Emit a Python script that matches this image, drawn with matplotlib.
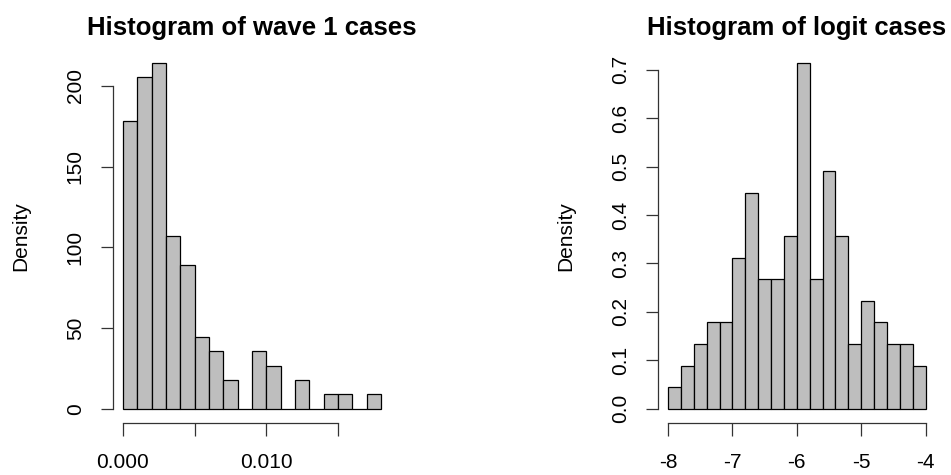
"""Two R-style density histograms: raw wave 1 cases and their logit."""

import matplotlib

matplotlib.use("Agg")
import matplotlib.pyplot as plt
import numpy as np

# wave 1 cases: bins of width 0.001 starting at 0
wave_bin_start = 0.0
wave_bin_width = 0.001
wave_density = [
    178.6, 205.4, 214.3, 107.1, 89.3, 44.6, 35.7, 17.9, 0.0,
    35.7, 26.8, 0.0, 17.9, 0.0, 8.9, 8.9, 0.0, 8.9,
]
wave_xticks = [0.000, 0.005, 0.010, 0.015]
wave_xticklabels = ["0.000", "", "0.010", ""]
wave_yticks = [0, 50, 100, 150, 200]

# logit cases: bins of width 0.2 starting at -8
logit_bin_start = -8.0
logit_bin_width = 0.2
logit_density = [
    0.045, 0.089, 0.134, 0.179, 0.179, 0.312, 0.446, 0.268, 0.268, 0.357,
    0.714, 0.268, 0.491, 0.357, 0.134, 0.223, 0.179, 0.134, 0.134, 0.089,
]
logit_xticks = [-8, -7, -6, -5, -4]
logit_yticks = [0.0, 0.1, 0.2, 0.3, 0.4, 0.5, 0.6, 0.7]

plt.rcParams["font.family"] = ["Liberation Sans", "DejaVu Sans"]
plt.rcParams["axes.unicode_minus"] = False

BAR_COLOR = "#bebebe"
TICK_SIZE = 15
TITLE_SIZE = 18.5


def r_hist(ax, start, width, density, title, xticks, xticklabels, yticks, yfmt):
    """Draw a base-R looking histogram on ax."""
    edges = start + width * np.arange(len(density))
    ax.bar(
        edges,
        density,
        width=width,
        align="edge",
        color=BAR_COLOR,
        edgecolor="black",
        linewidth=0.9,
    )
    # R pads the data range by 4% on each side
    x0, x1 = start, start + width * len(density)
    pad_x = 0.04 * (x1 - x0)
    ymax = max(density)
    ax.set_xlim(x0 - pad_x, x1 + pad_x)
    ax.set_ylim(-0.04 * ymax, ymax * 1.04)

    for side in ("top", "right"):
        ax.spines[side].set_visible(False)
    for side in ("left", "bottom"):
        ax.spines[side].set_linewidth(0.9)
        ax.spines[side].set_color("#333333")
    ax.spines["bottom"].set_bounds(xticks[0], xticks[-1])
    ax.spines["left"].set_bounds(yticks[0], yticks[-1])

    ax.set_xticks(xticks)
    ax.set_xticklabels(xticklabels)
    ax.set_yticks(yticks)
    ax.set_yticklabels([yfmt.format(v) for v in yticks], rotation=90, va="center")
    ax.tick_params(axis="x", length=9, width=0.9, color="#333333",
                   labelsize=TICK_SIZE, pad=13)
    ax.tick_params(axis="y", length=9, width=0.9, color="#333333",
                   labelsize=TICK_SIZE, pad=11)

    ax.set_ylabel("Density", fontsize=TICK_SIZE)
    ax.yaxis.set_label_coords(-0.296, 0.5)
    ax.set_title(title, fontsize=TITLE_SIZE, fontweight="bold", pad=10)


fig = plt.figure(figsize=(9.51, 4.75), dpi=100)
ax_wave = fig.add_axes([0.1183, 0.1101, 0.2933, 0.7867])
ax_logit = fig.add_axes([0.6916, 0.1101, 0.2926, 0.7867])

r_hist(
    ax_wave, wave_bin_start, wave_bin_width, wave_density,
    "Histogram of wave 1 cases", wave_xticks, wave_xticklabels,
    wave_yticks, "{:.0f}",
)
r_hist(
    ax_logit, logit_bin_start, logit_bin_width, logit_density,
    "Histogram of logit cases", logit_xticks,
    [str(v) for v in logit_xticks], logit_yticks, "{:.1f}",
)

fig.savefig("out.png", dpi=100)
